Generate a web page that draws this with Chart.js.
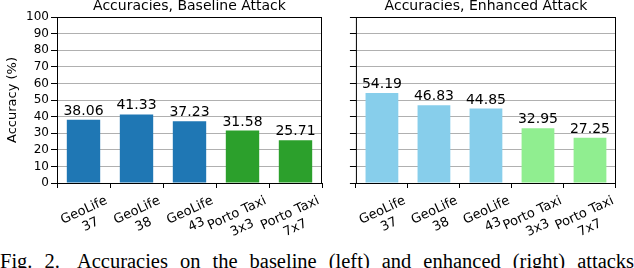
<!DOCTYPE html>
<html>
<head>
<meta charset="utf-8">
<script src="https://cdn.jsdelivr.net/npm/chart.js@4.4.1/dist/chart.umd.min.js"></script>
<style>
  html, body { margin: 0; padding: 0; background: #fff; overflow: hidden; }
  body { width: 634px; height: 268px; position: relative; }
  #left { position: absolute; left: 0; top: 0; }
  #right { position: absolute; left: 330px; top: 0; }
  #caption {
    position: absolute; left: 0; top: 251.3px; white-space: nowrap;
    font-family: "Liberation Serif", serif; font-size: 20.5px; line-height: 1; color: #000;
    word-spacing: 6.9px;
  }
  #caption span { margin-right: 17px; }
</style>
</head>
<body>
<canvas id="left" width="330" height="250"></canvas>
<canvas id="right" width="304" height="250"></canvas>
<div id="caption"><span>Fig. 2.</span>Accuracies on the baseline (left) and enhanced (right) attacks.</div>
<script>
// data
var categories = [['GeoLife', '37    '], ['GeoLife', '38    '], ['GeoLife', '43    '],
                  ['Porto Taxi', '3x3     '], ['Porto Taxi', '7x7     ']];
var baseline = [38.06, 41.33, 37.23, 31.58, 25.71];
var enhanced = [54.19, 46.83, 44.85, 32.95, 27.25];
var yTicks = [0, 10, 20, 30, 40, 50, 60, 70, 80, 90, 100];

Chart.defaults.font.family = 'DejaVu Sans';
Chart.defaults.color = '#000';

// frame, title and value labels, matplotlib style
var framePlugin = {
    id: 'frame',
    afterDraw: function(chart) {
        var ctx = chart.ctx;
        var a = chart.chartArea;
        ctx.save();
        ctx.strokeStyle = '#000';
        ctx.lineWidth = 1;
        ctx.strokeRect(a.left + 0.5, a.top + 0.5, a.right - a.left - 1, a.bottom - a.top);

        ctx.fillStyle = '#000';
        ctx.font = '14px "DejaVu Sans"';
        ctx.textAlign = 'center';
        ctx.textBaseline = 'alphabetic';
        ctx.fillText(chart.options.plotTitle, (a.left + a.right) / 2, a.top - 7.5);

        var meta = chart.getDatasetMeta(0);
        var vals = chart.data.datasets[0].data;
        meta.data.forEach(function(bar, i) {
            ctx.fillText(vals[i].toFixed(2), bar.x, bar.y - 5);
        });
        ctx.restore();
    }
};

function makeChart(id, values, colors, title, showLabels, padRight, yWidth) {
    var ctx = document.getElementById(id).getContext('2d');
    return new Chart(ctx, {
        type: 'bar',
        data: {
            labels: categories,
            datasets: [{
                data: values,
                backgroundColor: colors,
                barPercentage: 0.63,
                categoryPercentage: 1
            }]
        },
        options: {
            responsive: false,
            animation: false,
            plotTitle: title,
            layout: { padding: { left: 0, right: padRight, top: 17, bottom: 0 } },
            plugins: { legend: { display: false }, tooltip: { enabled: false } },
            scales: {
                x: {
                    grid: { drawOnChartArea: false, drawTicks: true, tickLength: 5, tickColor: '#000' },
                    border: { display: false },
                    ticks: { autoSkip: false, minRotation: 25, maxRotation: 25, padding: 5,
                             labelOffset: 23, font: { size: 13 }, color: '#000' },
                    afterFit: function(scale) { scale.height = 67; }
                },
                y: {
                    min: 0, max: 100, z: 1,
                    afterBuildTicks: function(scale) {
                        scale.ticks = yTicks.map(function(v) { return { value: v }; });
                    },
                    grid: { color: '#b0b0b0', lineWidth: 1, tickLength: 6, tickColor: '#000' },
                    border: { display: false },
                    ticks: { display: showLabels, autoSkip: false, padding: 2,
                             font: { size: 12 }, color: '#000' },
                    title: { display: showLabels, text: 'Accuracy (%)', font: { size: 13 },
                             padding: { top: 5, bottom: 0 }, color: '#000' },
                    afterFit: function(scale) { scale.width = yWidth; }
                }
            }
        },
        plugins: [framePlugin]
    });
}

makeChart('left', baseline, ['#1f77b4', '#1f77b4', '#1f77b4', '#2ca02c', '#2ca02c'],
          'Accuracies, Baseline Attack', true, 8, 57);
makeChart('right', enhanced, ['#87ceeb', '#87ceeb', '#87ceeb', '#90ee90', '#90ee90'],
          'Accuracies, Enhanced Attack', false, 18, 21);
</script>
</body>
</html>
